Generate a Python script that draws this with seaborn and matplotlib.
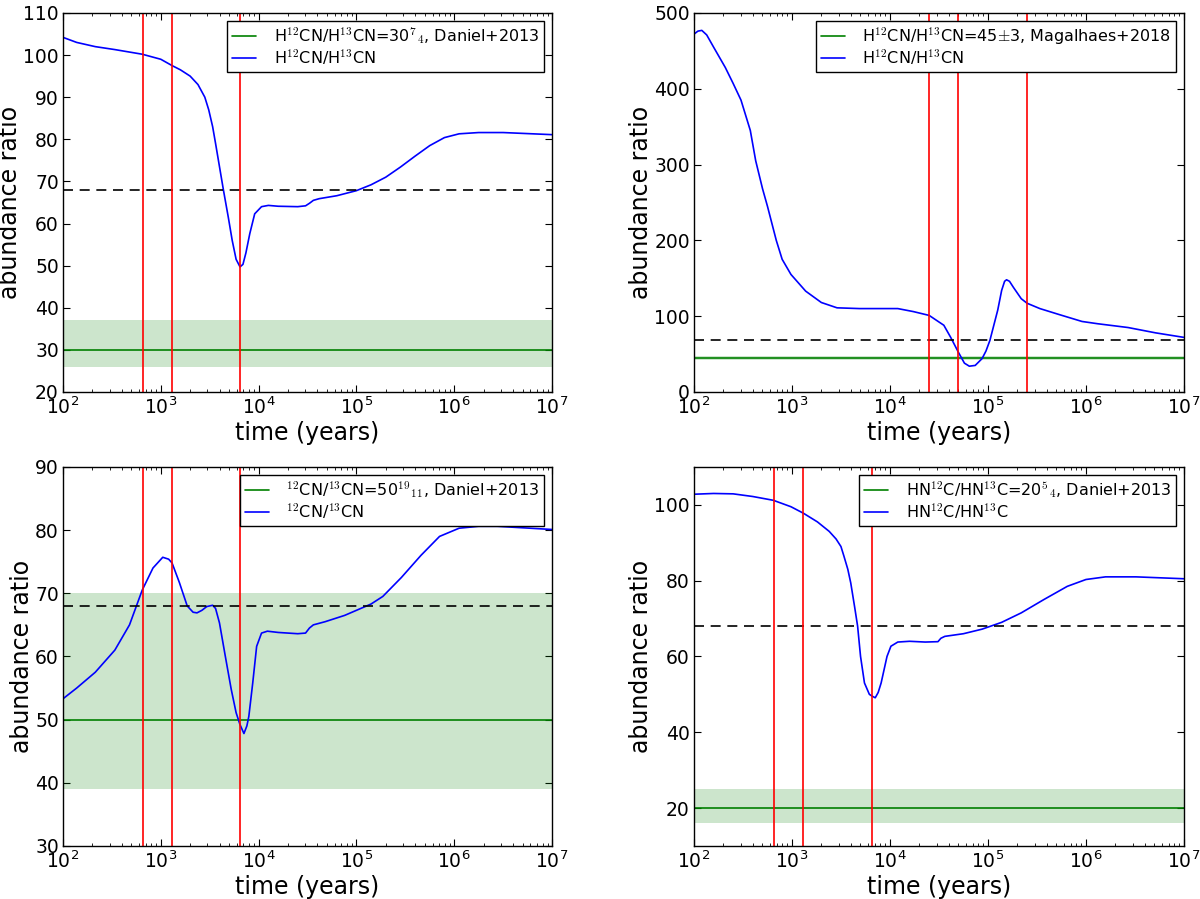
import numpy as np
import matplotlib
matplotlib.use('Agg')
import matplotlib.pyplot as plt
import seaborn as sns

# ---- data (log10 of time in years, abundance ratio) ----
hcn_logt = [2.00, 2.14, 2.33, 2.53, 2.81, 3.00, 3.115, 3.20, 3.30, 3.38, 3.45, 3.49,
            3.53, 3.56, 3.60, 3.64, 3.69, 3.73, 3.77, 3.81, 3.84, 3.87, 3.91, 3.96,
            4.03, 4.10, 4.20, 4.40, 4.48, 4.52, 4.56, 4.62, 4.80, 5.00, 5.15, 5.30,
            5.45, 5.60, 5.75, 5.90, 6.05, 6.25, 6.50, 6.80, 7.00]
hcn_ratio = [104.2, 103.0, 102.0, 101.3, 100.2, 99.0, 97.5, 96.5, 95.0, 93.0, 90.0, 87.0,
             83.0, 79.0, 73.5, 68.0, 61.5, 56.0, 51.5, 49.7, 50.3, 53.0, 57.6, 62.3,
             64.0, 64.3, 64.1, 64.0, 64.2, 64.8, 65.5, 65.9, 66.6, 67.8, 69.2, 71.0,
             73.4, 76.0, 78.5, 80.4, 81.3, 81.6, 81.6, 81.3, 81.1]

hcn2_logt = [2.00, 2.04, 2.08, 2.13, 2.20, 2.32, 2.40, 2.48, 2.575, 2.63, 2.70, 2.75,
             2.80, 2.84, 2.90, 2.99, 3.14, 3.30, 3.46, 3.69, 4.08, 4.24, 4.40, 4.55,
             4.62, 4.70, 4.76, 4.81, 4.87, 4.94, 4.98, 5.02, 5.06, 5.10, 5.14, 5.17,
             5.19, 5.22, 5.26, 5.34, 5.40, 5.53, 5.73, 5.96, 6.12, 6.43, 6.71, 7.00]
hcn2_ratio = [472, 476, 477, 471, 455, 428, 407, 385, 345, 305, 268, 245,
              220, 200, 175, 155, 133, 118, 111, 110, 110, 106, 101, 88,
              72, 52, 38, 34, 35, 44, 54, 68, 88, 108, 134, 146,
              148, 146, 138, 123, 117, 110, 102, 93, 90, 85, 78, 72]

cn_logt = [2.00, 2.14, 2.33, 2.53, 2.68, 2.81, 2.92, 3.02, 3.08, 3.115, 3.19, 3.27,
           3.33, 3.37, 3.42, 3.47, 3.53, 3.56, 3.60, 3.66, 3.72, 3.77, 3.81, 3.85,
           3.88, 3.90, 3.94, 3.98, 4.03, 4.09, 4.20, 4.40, 4.48, 4.52, 4.56, 4.68,
           4.88, 5.00, 5.15, 5.27, 5.46, 5.66, 5.85, 6.05, 6.25, 6.44, 7.00]
cn_ratio = [53.3, 55.0, 57.5, 61.0, 65.0, 70.5, 74.0, 75.7, 75.4, 74.8, 71.7, 68.0,
            67.0, 66.9, 67.3, 67.9, 68.1, 67.6, 65.3, 60.0, 54.8, 51.1, 49.2, 47.8,
            49.0, 50.5, 55.8, 61.6, 63.7, 64.0, 63.8, 63.6, 63.7, 64.5, 65.0, 65.5,
            66.5, 67.3, 68.3, 69.5, 72.5, 76.0, 79.0, 80.3, 80.6, 80.6, 80.1]

hnc_logt = [2.00, 2.20, 2.40, 2.60, 2.81, 2.99, 3.116, 3.26, 3.38, 3.45, 3.50, 3.53,
            3.57, 3.60, 3.64, 3.67, 3.70, 3.74, 3.79, 3.82, 3.85, 3.88, 3.91, 3.97,
            4.01, 4.08, 4.20, 4.36, 4.49, 4.52, 4.56, 4.75, 4.94, 5.14, 5.34, 5.57,
            5.81, 6.00, 6.20, 6.51, 7.00]
hnc_ratio = [102.8, 103.0, 102.9, 102.2, 101.2, 99.5, 97.8, 95.5, 93.0, 91.0, 89.0, 86.5,
             83.0, 79.4, 73.0, 68.0, 60.0, 53.0, 50.0, 49.5, 49.1, 50.5, 53.0, 60.0,
             62.7, 63.8, 64.0, 63.8, 63.9, 64.8, 65.3, 66.0, 67.2, 69.0, 71.5, 75.0,
             78.5, 80.3, 81.0, 81.0, 80.5]

# observed values (value, lower edge, upper edge)
hcn_obs = [30, 26, 37]
hcn2_obs = [45, 42, 48]
cn_obs = [50, 39, 70]
hnc_obs = [20, 16, 25]

solar_ratio = 68
early_times = [650, 1300, 6500]
late_times = [2.5e4, 5e4, 2.5e5]

sns.set_style('ticks')
plt.rcParams.update({
    'xtick.direction': 'in', 'ytick.direction': 'in',
    'xtick.top': True, 'ytick.right': True,
    'xtick.major.size': 5, 'ytick.major.size': 5,
    'xtick.minor.size': 2.5, 'ytick.minor.size': 2.5,
    'xtick.color': 'k', 'ytick.color': 'k',
    'xtick.labelcolor': 'k', 'ytick.labelcolor': 'k',
    'text.color': 'k', 'axes.labelcolor': 'k',
    'axes.edgecolor': 'k', 'axes.linewidth': 1.0,
    'xtick.labelsize': 13.5, 'ytick.labelsize': 13.5,
    'ytick.major.pad': 3,
    'mathtext.fontset': 'cm',
})
plt.rcParams['font.family'] = ['DejaVu Sans']


def draw_panel(ax, logt, ratio, obs, vlines, ylim, yticks, obs_label, model_label):
    ax.axhspan(obs[1], obs[2], color='g', alpha=0.2, lw=0)
    ax.axhline(obs[0], color='g', lw=1.2, label=obs_label)
    sns.lineplot(x=10 ** np.array(logt), y=ratio, ax=ax, color='b', lw=1.2,
                 label=model_label)
    ax.axhline(solar_ratio, color='k', ls='--', lw=1.2, dashes=(6, 4))
    for t in vlines:
        ax.axvline(t, color='r', lw=1.2)
    ax.set_xscale('log')
    ax.set_xlim(1e2, 1e7)
    ax.set_ylim(*ylim)
    ax.set_yticks(yticks)
    ax.set_xlabel('time (years)', fontsize=17, labelpad=2)
    ax.set_ylabel('abundance ratio', fontsize=17, labelpad=1)
    leg = ax.legend(loc='upper right', fontsize=11.5, frameon=True, fancybox=False,
                    framealpha=1, edgecolor='k', handlelength=1.5,
                    handletextpad=1.1, borderpad=0.3, labelspacing=0.05)
    leg.get_frame().set_linewidth(1.0)


fig = plt.figure(figsize=(12, 8.99), dpi=100)
ax1 = fig.add_axes([0.0525, 0.564, 0.4075, 0.4216])
ax2 = fig.add_axes([0.5783, 0.564, 0.4083, 0.4216])
ax3 = fig.add_axes([0.0525, 0.059, 0.4075, 0.4216])
ax4 = fig.add_axes([0.5783, 0.059, 0.4083, 0.4216])

draw_panel(ax1, hcn_logt, hcn_ratio, hcn_obs, early_times, (20, 110),
           range(20, 111, 10),
           r'H$^{12}$CN/H$^{13}$CN=30$^7$$_4$, Daniel+2013',
           r'H$^{12}$CN/H$^{13}$CN')
draw_panel(ax2, hcn2_logt, hcn2_ratio, hcn2_obs, late_times, (0, 500),
           range(0, 501, 100),
           r'H$^{12}$CN/H$^{13}$CN=45$\pm$3, Magalhaes+2018',
           r'H$^{12}$CN/H$^{13}$CN')
draw_panel(ax3, cn_logt, cn_ratio, cn_obs, early_times, (30, 90),
           range(30, 91, 10),
           r'$^{12}$CN/$^{13}$CN=50$^{19}$$_{11}$, Daniel+2013',
           r'$^{12}$CN/$^{13}$CN')
draw_panel(ax4, hnc_logt, hnc_ratio, hnc_obs, early_times, (10, 110),
           range(20, 101, 20),
           r'HN$^{12}$C/HN$^{13}$C=20$^5$$_4$, Daniel+2013',
           r'HN$^{12}$C/HN$^{13}$C')

fig.savefig('out.png', dpi=100)
